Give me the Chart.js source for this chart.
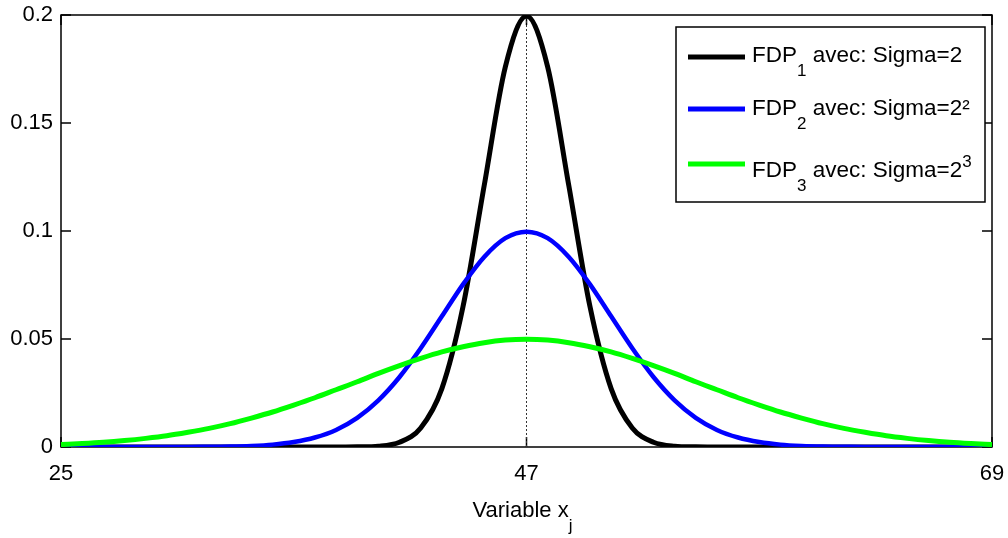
<!DOCTYPE html>
<html>
<head>
<meta charset="utf-8">
<script src="https://cdn.jsdelivr.net/npm/chart.js@4.4.1/dist/chart.umd.min.js"></script>
<style>
  html, body { margin: 0; padding: 0; background: #fff; }
</style>
</head>
<body>
<canvas id="pdfChart" width="1008" height="538"></canvas>
<script>
const FONT = '"Liberation Sans", Arial, sans-serif';

// x de 25 à 69
const xValues = [25, 26, 27, 28, 29, 30, 31, 32, 33, 34, 35, 36, 37, 38, 39, 40,
    41, 42, 43, 44, 45, 46, 47, 48, 49, 50, 51, 52, 53, 54, 55, 56, 57, 58, 59,
    60, 61, 62, 63, 64, 65, 66, 67, 68, 69];

// FDP1, sigma = 2
const fdp1 = [0, 0, 0, 0, 0, 0, 0, 0, 0, 0, 0, 0, 0, 0, 0.0001, 0.0004,
    0.0022, 0.0088, 0.027, 0.065, 0.121, 0.176, 0.1995, 0.176, 0.121, 0.065, 0.027, 0.0088, 0.0022, 0.0004, 0.0001,
    0, 0, 0, 0, 0, 0, 0, 0, 0, 0, 0, 0, 0, 0];

// FDP2, sigma = 2²
const fdp2 = [0, 0, 0, 0, 0, 0, 0, 0.0001, 0.0002, 0.0005, 0.0011, 0.0023, 0.0044, 0.0079, 0.0135, 0.0216,
    0.0324, 0.0457, 0.0605, 0.0753, 0.088, 0.0967, 0.0997, 0.0967, 0.088, 0.0753, 0.0605, 0.0457, 0.0324, 0.0216, 0.0135,
    0.0079, 0.0044, 0.0023, 0.0011, 0.0005, 0.0002, 0.0001, 0, 0, 0, 0, 0, 0, 0];

// FDP3, sigma = 2^3
const fdp3 = [0.0011, 0.0016, 0.0022, 0.003, 0.004, 0.0052, 0.0068, 0.0086, 0.0108, 0.0134, 0.0162, 0.0194, 0.0228, 0.0265, 0.0302, 0.0341,
    0.0377, 0.041, 0.044, 0.0464, 0.0483, 0.0495, 0.0499, 0.0495, 0.0483, 0.0464, 0.044, 0.041, 0.0377, 0.0341, 0.0302,
    0.0265, 0.0228, 0.0194, 0.0162, 0.0134, 0.0108, 0.0086, 0.0068, 0.0052, 0.004, 0.003, 0.0022, 0.0016, 0.0011];

// ligne pointillée au centre
const centerX = [47, 47];
const centerY = [0, 0.2];

const xTicks = [25, 47, 69];
const yTicks = [0, 0.05, 0.1, 0.15, 0.2];
const yTickLabels = ['0', '0.05', '0.1', '0.15', '0.2'];

const legendSubs = ['1', '2', '3'];
const legendText = [' avec: Sigma=2', ' avec: Sigma=2²', ' avec: Sigma=2'];
const legendSups = ['', '', '3'];
const seriesColors = ['#000000', '#0000ff', '#00ff00'];

function toPoints(xs, ys) {
    return xs.map((x, i) => ({ x, y: ys[i] }));
}

// texte avec indices / exposants : parts = [{ t, size, dy }]
function drawRich(ctx, x, baseline, parts, align) {
    let total = 0;
    parts.forEach(p => {
        ctx.font = `${p.size}px ${FONT}`;
        p.w = ctx.measureText(p.t).width;
        total += p.w;
    });
    let cx = align === 'center' ? x - total / 2 : x;
    ctx.textAlign = 'left';
    ctx.textBaseline = 'alphabetic';
    parts.forEach(p => {
        ctx.font = `${p.size}px ${FONT}`;
        ctx.fillText(p.t, cx, baseline + (p.dy || 0));
        cx += p.w;
    });
}

const matlabFrame = {
    id: 'matlabFrame',
    beforeDatasetsDraw(chart) {
        const { ctx, chartArea: a, scales: { x, y } } = chart;
        ctx.save();
        ctx.strokeStyle = '#000';
        ctx.lineWidth = 1.5;
        ctx.strokeRect(a.left, a.top, a.right - a.left, a.bottom - a.top);
        ctx.beginPath();
        xTicks.forEach(v => {
            const px = x.getPixelForValue(v);
            ctx.moveTo(px, a.bottom); ctx.lineTo(px, a.bottom - 10);
            ctx.moveTo(px, a.top); ctx.lineTo(px, a.top + 10);
        });
        yTicks.forEach(v => {
            const py = y.getPixelForValue(v);
            ctx.moveTo(a.left, py); ctx.lineTo(a.left + 10, py);
            ctx.moveTo(a.right, py); ctx.lineTo(a.right - 10, py);
        });
        ctx.stroke();
        ctx.restore();
    },
    afterDraw(chart) {
        const { ctx, chartArea: a } = chart;
        ctx.save();
        ctx.fillStyle = '#000';

        // titre de l'axe x
        drawRich(ctx, (a.left + a.right) / 2 - 4, 517, [
            { t: 'Variable x', size: 22 },
            { t: 'j', size: 17, dy: 14 }
        ], 'center');

        // légende
        const box = { x: 676, y: 27, w: 309, h: 175 };
        ctx.fillStyle = '#fff';
        ctx.fillRect(box.x, box.y, box.w, box.h);
        ctx.strokeStyle = '#000';
        ctx.lineWidth = 1.5;
        ctx.strokeRect(box.x, box.y, box.w, box.h);

        const lineY = [57, 109, 164];
        const textY = [62, 115, 177];
        seriesColors.forEach((c, i) => {
            ctx.strokeStyle = c;
            ctx.lineWidth = 5;
            ctx.beginPath();
            ctx.moveTo(box.x + 12, lineY[i]);
            ctx.lineTo(box.x + 69, lineY[i]);
            ctx.stroke();
            ctx.fillStyle = '#000';
            const parts = [
                { t: 'FDP', size: 22.5 },
                { t: legendSubs[i], size: 17, dy: 14 },
                { t: legendText[i], size: 22.5 }
            ];
            if (legendSups[i]) parts.push({ t: legendSups[i], size: 17, dy: -10 });
            drawRich(ctx, box.x + 76, textY[i], parts, 'left');
        });
        ctx.restore();
    }
};

function lineSet(label, ys, color, width, order) {
    return {
        label,
        data: toPoints(xValues, ys),
        borderColor: color,
        borderWidth: width,
        pointRadius: 0,
        fill: false,
        cubicInterpolationMode: 'monotone',
        order
    };
}

new Chart(document.getElementById('pdfChart'), {
    type: 'line',
    data: {
        datasets: [
            {
                label: 'centre',
                data: toPoints(centerX, centerY),
                borderColor: '#333',
                borderWidth: 1,
                borderDash: [2, 2],
                pointRadius: 0,
                order: 4
            },
            lineSet('FDP1', fdp1, seriesColors[0], 5, 3),
            lineSet('FDP2', fdp2, seriesColors[1], 4.5, 2),
            lineSet('FDP3', fdp3, seriesColors[2], 5, 1)
        ]
    },
    options: {
        responsive: false,
        animation: false,
        devicePixelRatio: 1,
        layout: { padding: { top: 15, right: 16, left: 0, bottom: 0 } },
        plugins: { legend: { display: false }, tooltip: { enabled: false } },
        scales: {
            x: {
                type: 'linear',
                min: 25,
                max: 69,
                afterBuildTicks: s => { s.ticks = xTicks.map(v => ({ value: v })); },
                afterFit: s => { s.height = 91; s.paddingLeft = 0; s.paddingRight = 0; },
                grid: { display: false, drawTicks: false },
                border: { display: false },
                ticks: {
                    color: '#000',
                    font: { family: FONT, size: 22 },
                    padding: 14,
                    maxRotation: 0,
                    autoSkip: false
                }
            },
            y: {
                type: 'linear',
                min: 0,
                max: 0.2,
                afterBuildTicks: s => { s.ticks = yTicks.map(v => ({ value: v })); },
                afterFit: s => { s.width = 61; s.paddingTop = 0; s.paddingBottom = 0; },
                grid: { display: false, drawTicks: false },
                border: { display: false },
                ticks: {
                    color: '#000',
                    font: { family: FONT, size: 22 },
                    padding: 8,
                    callback: (v, i) => yTickLabels[i]
                }
            }
        }
    },
    plugins: [matlabFrame]
});
</script>
</body>
</html>
